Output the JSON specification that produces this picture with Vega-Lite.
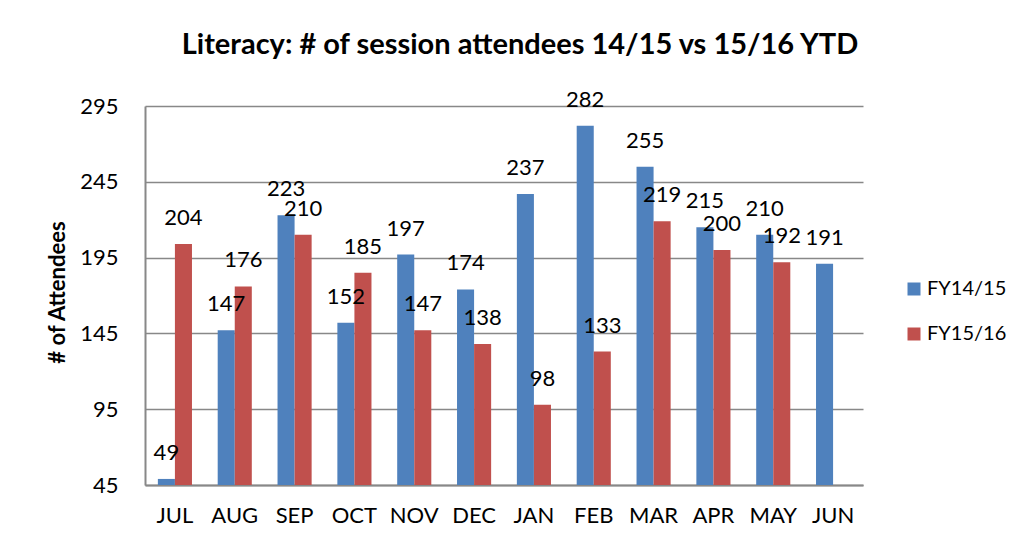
{
  "$schema": "https://vega.github.io/schema/vega-lite/v6.json",
  "width": 718,
  "height": 379,
  "autosize": {"type": "none"},
  "padding": {"left": 145, "top": 106, "right": 163, "bottom": 65},
  "background": "white",
  "title": {
    "text": "Literacy: # of session attendees 14/15 vs 15/16 YTD",
    "font": "Lato",
    "fontSize": 29,
    "fontWeight": "bold",
    "color": "black",
    "anchor": "middle",
    "frame": "group",
    "dx": 16,
    "baseline": "middle",
    "offset": 15
  },
  "data": {
    "values": [
      {"month": "JUL", "series": "FY14/15", "value": 49},
      {"month": "AUG", "series": "FY14/15", "value": 147},
      {"month": "SEP", "series": "FY14/15", "value": 223},
      {"month": "OCT", "series": "FY14/15", "value": 152},
      {"month": "NOV", "series": "FY14/15", "value": 197},
      {"month": "DEC", "series": "FY14/15", "value": 174},
      {"month": "JAN", "series": "FY14/15", "value": 237},
      {"month": "FEB", "series": "FY14/15", "value": 282},
      {"month": "MAR", "series": "FY14/15", "value": 255},
      {"month": "APR", "series": "FY14/15", "value": 215},
      {"month": "MAY", "series": "FY14/15", "value": 210},
      {"month": "JUN", "series": "FY14/15", "value": 191},
      {"month": "JUL", "series": "FY15/16", "value": 204},
      {"month": "AUG", "series": "FY15/16", "value": 176},
      {"month": "SEP", "series": "FY15/16", "value": 210},
      {"month": "OCT", "series": "FY15/16", "value": 185},
      {"month": "NOV", "series": "FY15/16", "value": 147},
      {"month": "DEC", "series": "FY15/16", "value": 138},
      {"month": "JAN", "series": "FY15/16", "value": 98},
      {"month": "FEB", "series": "FY15/16", "value": 133},
      {"month": "MAR", "series": "FY15/16", "value": 219},
      {"month": "APR", "series": "FY15/16", "value": 200},
      {"month": "MAY", "series": "FY15/16", "value": 192}
    ]
  },
  "encoding": {
    "x": {
      "field": "month",
      "type": "nominal",
      "sort": ["JUL","AUG","SEP","OCT","NOV","DEC","JAN","FEB","MAR","APR","MAY","JUN"],
      "scale": {"paddingInner": 0.43, "paddingOuter": 0.215},
      "axis": {
        "title": null,
        "labelAngle": 0,
        "labelFont": "Lato",
        "labelFontSize": 22,
        "labelColor": "black",
        "labelPadding": 20,
        "ticks": false,
        "domainColor": "#888888",
        "domainWidth": 2,
        "grid": false
      }
    },
    "xOffset": {"field": "series", "type": "nominal", "sort": ["FY14/15","FY15/16"], "scale": {"paddingInner": 0, "paddingOuter": 0}},
    "y": {
      "field": "value",
      "type": "quantitative",
      "scale": {"domain": [45, 295], "zero": false, "nice": false},
      "axis": {
        "values": [45, 95, 145, 195, 245, 295],
        "title": "# of Attendees",
        "titleFont": "Lato",
        "titleFontSize": 22,
        "titleFontWeight": "bold",
        "titleColor": "black",
        "titleAngle": -90,
        "titleAlign": "center",
        "titleBaseline": "middle",
        "titleX": -88,
        "titleY": 186,
        "labelFont": "Lato",
        "labelFontSize": 22,
        "labelColor": "black",
        "labelPadding": 27,
        "ticks": false,
        "domainColor": "#888888",
        "domainWidth": 2,
        "grid": true,
        "gridColor": "#888888",
        "gridWidth": 1.6
      }
    }
  },
  "layer": [
    {
      "mark": {"type": "bar"},
      "encoding": {
        "y2": {"datum": 45},
        "color": {
          "field": "series",
          "type": "nominal",
          "scale": {"domain": ["FY14/15","FY15/16"], "range": ["#4F81BD","#C0504D"]},
          "legend": {
            "title": null,
            "orient": "none",
            "legendX": 759,
            "legendY": 173,
            "padding": 0,
            "symbolType": "square",
            "symbolSize": 169,
            "symbolStrokeWidth": 0,
            "labelFont": "Lato",
            "labelFontSize": 20,
            "labelColor": "black",
            "labelOffset": 3,
            "rowPadding": 25
          }
        }
      }
    },
    {
      "mark": {"type": "text", "font": "Lato", "fontSize": 22, "color": "black", "baseline": "alphabetic", "dy": -19},
      "encoding": {
        "text": {"field": "value", "type": "quantitative"}
      }
    }
  ],
  "config": {"view": {"stroke": null}}
}
